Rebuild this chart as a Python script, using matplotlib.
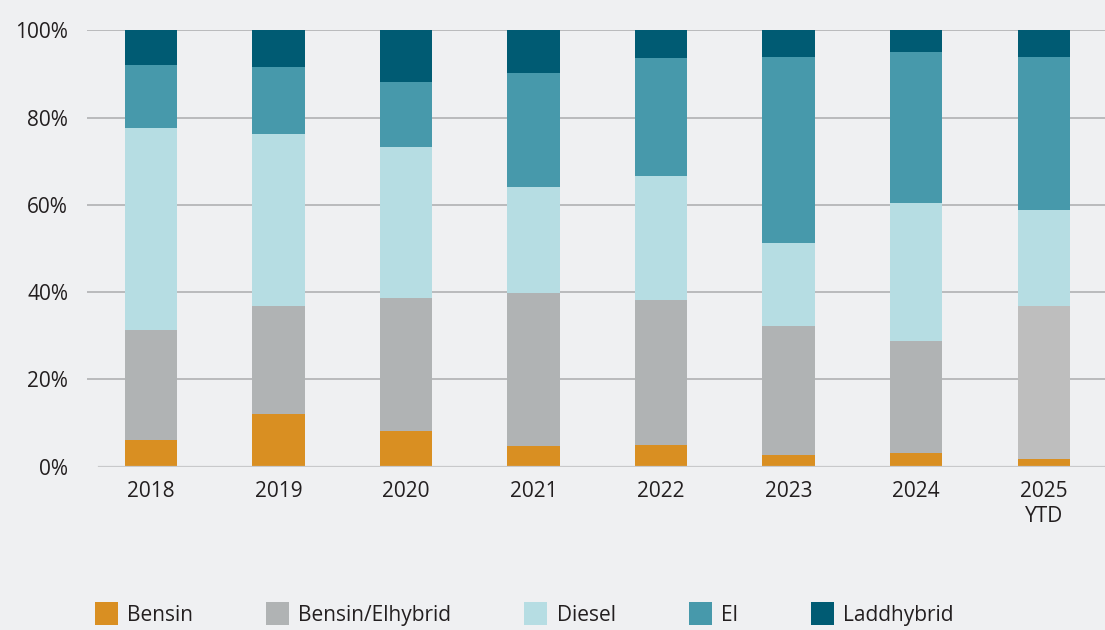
import matplotlib.pyplot as plt
import numpy as np
from matplotlib.patches import Patch

# --- DATA (share in %) ---
years = ["2018", "2019", "2020", "2021", "2022", "2023", "2024", "2025\nYTD"]
bensin = [6.1, 12.1, 8.2, 4.8, 5.0, 2.7, 3.2, 1.8]
bensin_elhybrid = [25.2, 24.8, 30.5, 34.9, 33.2, 29.5, 25.6, 35.1]
diesel = [46.4, 39.4, 34.5, 24.4, 28.4, 19.1, 31.6, 21.9]
el = [14.3, 15.2, 15.0, 26.1, 27.0, 42.6, 34.7, 35.1]
laddhybrid = [8.0, 8.5, 11.8, 9.8, 6.4, 6.1, 4.9, 6.1]
y_ticks = [0, 20, 40, 60, 80, 100]

series = ["Bensin", "Bensin/Elhybrid", "Diesel", "El", "Laddhybrid"]
colors = ["#d98f22", "#b0b3b4", "#b6dde3", "#4799ab", "#005b73"]
last_grey = "#bebebe"  # 2025 YTD hybrid bar is a lighter grey

BG = "#eff0f2"
TEXT = "#231f20"
FS = 15

plt.rcParams['font.family'] = ['Open Sans', 'DejaVu Sans']

fig = plt.figure(figsize=(11.05, 6.3), dpi=100, facecolor=BG)
ax = fig.add_axes([87 / 1105, 163.3 / 630, 1 - 87 / 1105, (466.7 - 30.3) / 630])
ax.set_facecolor(BG)

x = np.arange(len(years))
width = 0.41
bottom = np.zeros(len(years))
for name, vals, col in zip(series, [bensin, bensin_elhybrid, diesel, el, laddhybrid], colors):
    bar_cols = [col] * len(years)
    if name == "Bensin/Elhybrid":
        bar_cols[-1] = last_grey
    ax.bar(x, vals, width, bottom=bottom, color=bar_cols, linewidth=0, zorder=3)
    bottom += np.array(vals)

# --- AXES STYLE ---
ax.set_xlim(-0.5, 7.48)
ax.set_ylim(0, 100)
for s in ax.spines.values():
    s.set_visible(False)

for t in y_ticks[1:]:
    ax.axhline(t, color="#b0b1b3", linewidth=1.2, zorder=1)
ax.axhline(0, xmin=12 / 1018, color="#c8c9cb", linewidth=1.6, zorder=4)

ax.set_yticks(y_ticks)
ax.set_yticklabels([f"{t}%" for t in y_ticks])
ax.set_xticks(x)
ax.set_xticklabels(years)
ax.tick_params(axis="y", length=0, pad=13.5, labelsize=FS, labelcolor=TEXT)
ax.tick_params(axis="x", length=0, pad=10, labelsize=FS, labelcolor=TEXT)
for lbl in ax.get_xticklabels():
    lbl.set_linespacing(1.3)

# --- LEGEND ---
handles = [Patch(facecolor=c, edgecolor="none") for c in colors]
fig.legend(handles, series, loc="center left", bbox_to_anchor=(95 / 1105, 1 - 614 / 630),
           ncol=5, frameon=False, fontsize=FS, labelcolor=TEXT,
           handlelength=1.1, handleheight=1.25, handletextpad=0.45,
           columnspacing=3.5, borderpad=0, borderaxespad=0)

fig.savefig("out.png", dpi=100, facecolor=BG)
